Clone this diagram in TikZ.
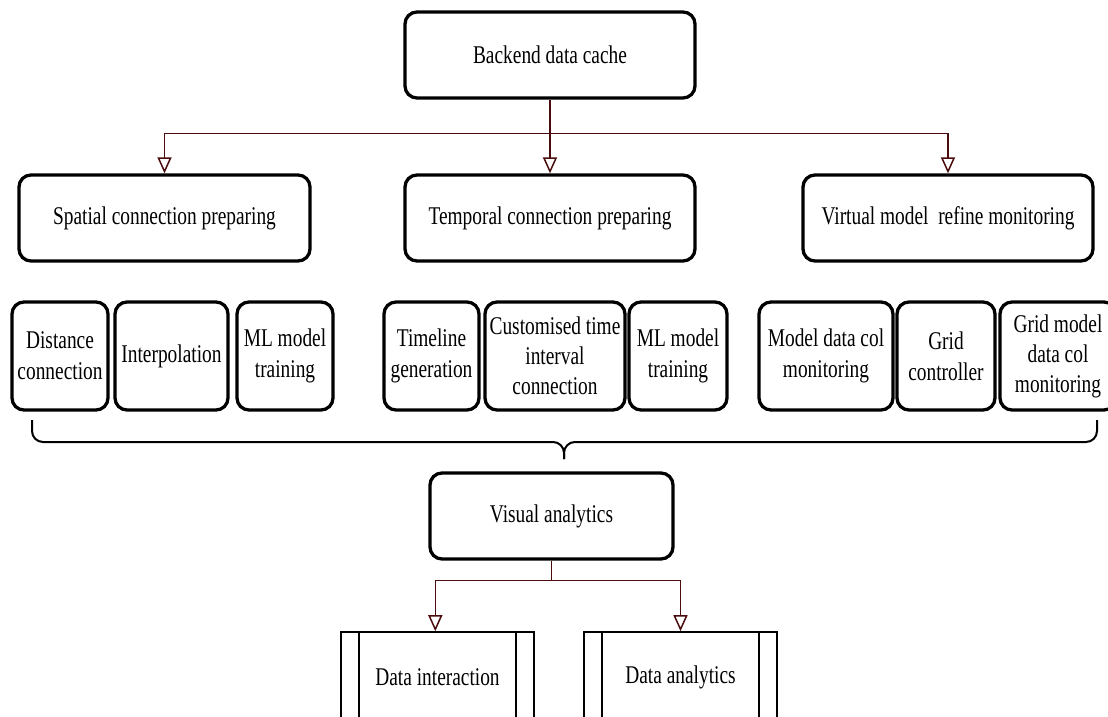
\documentclass[tikz,border=0pt]{standalone}
\usepackage{fontspec}
\setmainfont{Liberation Serif}[FakeStretch=0.76]
\usetikzlibrary{arrows.meta}
\definecolor{linkred}{HTML}{4A0C0C}
\begin{document}
\begin{tikzpicture}[x=1pt,y=-1pt,
  box/.style={draw=black, line width=3.3pt, rounded corners=12pt, fill=white,
    align=center, inner sep=0pt, font=\fontsize{25.5}{31}\selectfont},
  subproc/.style={draw=black, line width=1.6pt, fill=white, align=center,
    inner sep=0pt, font=\fontsize{25.5}{31}\selectfont},
  link/.style={draw=linkred, line width=1.5pt,
    -{Triangle[open, length=16pt, width=14pt, line width=1.5pt, fill=white]}},
  bracepath/.style={draw=black, line width=2pt, rounded corners=11pt}]
\useasboundingbox (0,0) rectangle (1108,717);

% top level
\node[box, minimum width=290pt, minimum height=86pt] (bdc) at (550,55) {Backend data cache};

% second level
\node[box, minimum width=291pt, minimum height=86pt] (spatial) at (164.5,218) {Spatial connection preparing};
\node[box, minimum width=290pt, minimum height=86pt] (temporal) at (550,218) {Temporal connection preparing};
\node[box, minimum width=290pt, minimum height=86pt] (virtual) at (948,218) {Virtual model\ \ refine monitoring};

% task boxes
\node[box, minimum width=96pt, minimum height=108pt] (dist) at (60,356) {Distance\\connection};
\node[box, minimum width=113pt, minimum height=108pt] (interp) at (171.5,356) {Interpolation};
\node[box, minimum width=96pt, minimum height=108pt] (mls) at (285,356) {ML model\\training};

\node[box, minimum width=95pt, minimum height=108pt] (tline) at (431.5,356) {Timeline\\generation};
\node[box, minimum width=140pt, minimum height=108pt, font=\fontsize{25.5}{30}\selectfont] (cust) at (555,356) {Customised time\\interval\\connection};
\node[box, minimum width=98pt, minimum height=108pt] (mlt) at (678,356) {ML model\\training};

\node[box, minimum width=134pt, minimum height=108pt] (mdc) at (826,356) {Model data col\\monitoring};
\node[box, minimum width=98pt, minimum height=108pt] (grid) at (946,356) {Grid\\controller};
\node[box, minimum width=116pt, minimum height=108pt, font=\fontsize{25.5}{30}\selectfont] (gmd) at (1058,356) {Grid model\\data col\\monitoring};

% visual analytics
\node[box, minimum width=243pt, minimum height=86pt] (va) at (551.5,516) {Visual analytics};

% predefined-process boxes
\node[subproc, minimum width=193pt, minimum height=90pt] (dint) at (437.5,677) {Data interaction};
\node[subproc, minimum width=193pt, minimum height=90pt] (dana) at (680.5,677) {Data analytics};
\foreach \n in {dint,dana}{
  \draw[line width=1.6pt] ([xshift=19pt]\n.north west) -- ([xshift=19pt]\n.south west);
  \draw[line width=1.6pt] ([xshift=-19pt]\n.north east) -- ([xshift=-19pt]\n.south east);
}

% connectors
\coordinate (split1) at ([yshift=-34pt]bdc.south);
\draw[link] (bdc.south) -- (split1) -| (spatial.north);
\draw[link] (split1) -- (temporal.north);
\draw[link] (split1) -| (virtual.north);

\coordinate (split2) at ([yshift=-20pt]va.south);
\draw[link] (va.south) -- (split2) -| ([xshift=-99.5pt]dint.north east);
\draw[link] (split2) -| (dana.north);

% brace collecting the task boxes
\coordinate (bl) at (32,420);
\coordinate (br) at (1097,420);
\coordinate (bm) at (564,442);
\coordinate (btip) at (564,459);
\draw[bracepath] (bl) |- (bm) -- (btip);
\draw[bracepath] (br) |- (bm) -- (btip);
\end{tikzpicture}
\end{document}
